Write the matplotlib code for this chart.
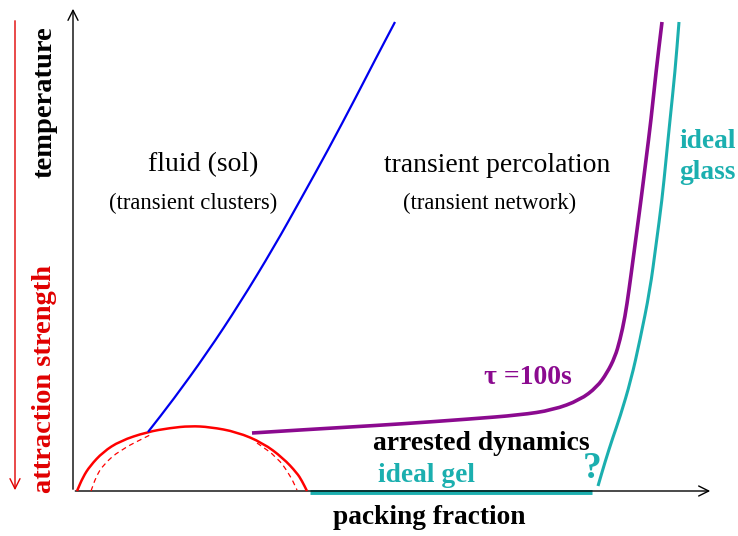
import matplotlib
matplotlib.use("Agg")
import matplotlib.pyplot as plt
from matplotlib.path import Path
from matplotlib.patches import PathPatch

plt.rcParams['font.family'] = ['Liberation Serif', 'DejaVu Serif']

# Curves (pixel-like coordinates, y grows downward)
red_x = [77, 83, 90, 103, 120, 147, 170, 190, 210, 237, 263, 283, 297, 302, 307]
red_y = [491, 477, 466, 452, 441, 432, 428, 426, 427, 432, 443, 458, 473, 481, 491]
red_dash_left_x = [91, 96, 103, 120, 150]
red_dash_left_y = [491, 477, 465, 450, 435]
red_dash_right_x = [257, 277, 290, 297]
red_dash_right_y = [443, 457, 475, 490]
blue_x = [148, 173, 207, 240, 274, 302, 328, 356, 375, 395]
blue_y = [432, 400, 353, 303, 247, 197, 150, 97, 60, 22]
purple_x = [252, 300, 350, 400, 470, 520, 553, 580, 597, 607, 615, 620, 625,
            629, 633, 637, 641, 646, 651, 656, 662]
purple_y = [433, 430, 427, 424, 419, 415, 410, 400, 387, 373, 357, 340, 317,
            290, 260, 230, 200, 160, 120, 72, 22]
glass_x = [598, 605, 613, 620, 631, 640, 650, 656, 662, 666, 670, 675, 679]
glass_y = [486, 462, 437, 417, 380, 340, 290, 245, 200, 160, 120, 72, 22]
gel_x = [310, 592]
gel_y = [492, 492]

fig = plt.figure(figsize=(7.38, 5.36), dpi=100)
ax = fig.add_axes([0, 0, 1, 1])
ax.set_xlim(0, 738)
ax.set_ylim(536, 0)
ax.axis('off')

teal = '#1BAFAF'
purple = '#8B0A8F'


def smooth_curve(xs, ys, **kwargs):
    """Draw a smooth quadratic-Bezier curve that uses the read points as controls."""
    pts = list(zip(xs, ys))
    verts = [pts[0]]
    codes = [Path.MOVETO]
    if len(pts) > 2:
        m = ((pts[0][0] + pts[1][0]) / 2, (pts[0][1] + pts[1][1]) / 2)
        verts.append(m)
        codes.append(Path.LINETO)
        for i in range(1, len(pts) - 1):
            m = ((pts[i][0] + pts[i + 1][0]) / 2, (pts[i][1] + pts[i + 1][1]) / 2)
            verts += [pts[i], m]
            codes += [Path.CURVE3, Path.CURVE3]
    verts.append(pts[-1])
    codes.append(Path.LINETO)
    patch = PathPatch(Path(verts, codes), fill=False, **kwargs)
    ax.add_patch(patch)
    return patch


ax.plot(gel_x, gel_y, color=teal, lw=3.5, solid_capstyle='butt', zorder=2)

# axes arrows
ax.annotate('', xy=(73, 6), xytext=(73, 492),
            arrowprops=dict(arrowstyle='->', color='black', lw=1.0, mutation_scale=18))
ax.annotate('', xy=(713, 491), xytext=(72.5, 491),
            arrowprops=dict(arrowstyle='->', color='black', lw=1.0, mutation_scale=18))
ax.annotate('', xy=(15, 493), xytext=(15, 18),
            arrowprops=dict(arrowstyle='->', color='#e00000', lw=1.0, mutation_scale=18))

smooth_curve(red_x, red_y, edgecolor='red', lw=1.8, zorder=3)
smooth_curve(red_dash_left_x, red_dash_left_y, edgecolor='red', lw=0.9,
             linestyle=(0, (4, 3)), zorder=3)
smooth_curve(red_dash_right_x, red_dash_right_y, edgecolor='red', lw=0.9,
             linestyle=(0, (4, 3)), zorder=3)
smooth_curve(blue_x, blue_y, edgecolor='#0000ee', lw=1.6, zorder=3)
smooth_curve(purple_x, purple_y, edgecolor=purple, lw=2.6, zorder=3)
smooth_curve(glass_x, glass_y, edgecolor=teal, lw=2.2, zorder=3)

ax.text(45, 102, 'temperature', rotation=90, ha='center', va='center',
        fontsize=20.5, fontweight='bold', color='black')
ax.text(45, 379, 'attraction strength', rotation=90, ha='center', va='center',
        fontsize=20.5, fontweight='bold', color='#e00000')
ax.text(429, 518, 'packing fraction', ha='center', va='center',
        fontsize=19.7, fontweight='bold')
ax.text(203, 165, 'fluid (sol)', ha='center', va='center', fontsize=20)
ax.text(193, 203, '(transient clusters)', ha='center', va='center', fontsize=16.3)
ax.text(497.5, 165, 'transient percolation', ha='center', va='center', fontsize=19.9)
ax.text(490, 203, '(transient network)', ha='center', va='center', fontsize=16.3)
ax.text(528, 378, 'τ =100s', ha='center', va='center', fontsize=20,
        fontweight='bold', color=purple)
ax.text(481.5, 443, 'arrested dynamics', ha='center', va='center', fontsize=19.9,
        fontweight='bold')
ax.text(426.5, 476, 'ideal gel', ha='center', va='center', fontsize=19.8,
        fontweight='bold', color=teal)
ax.text(592, 469, '?', ha='center', va='center', fontsize=27,
        fontweight='bold', color=teal)
ax.text(679, 157, 'ideal\nglass', ha='left', va='center', fontsize=19.8,
        fontweight='bold', color=teal, linespacing=1.3)

fig.savefig('out.png', dpi=100)
